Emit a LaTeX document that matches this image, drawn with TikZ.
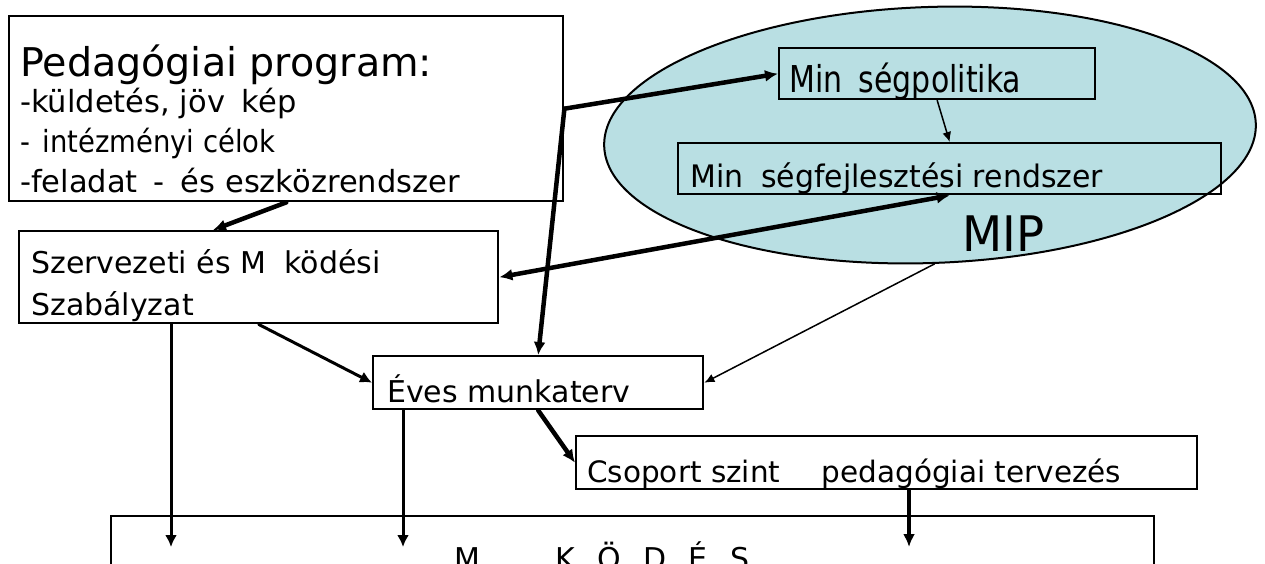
\documentclass[tikz,border=0pt]{standalone}
\usepackage{fontspec}
\setmainfont{DejaVu Sans}
\usetikzlibrary{arrows.meta,shapes.geometric}
\definecolor{celeste}{RGB}{185,223,227}
\newcommand{\angosto}[2][0.8]{\scalebox{#1}[1]{#2}}
\tikzstyle{every path}=[line cap=round]
\tikzstyle{caja}=[draw, line width=2.4pt, rectangle, anchor=north west, inner sep=0pt]
\tikzstyle{texto}=[anchor=base west, inner sep=0pt]
\tikzstyle{gruesa}=[line width=4.5pt, -{Latex[length=13pt,width=12pt]}]
\tikzstyle{media}=[line width=3pt, -{Latex[length=12pt,width=12pt]}]
\tikzstyle{fina}=[line width=1.5pt, -{Latex[length=10pt,width=9pt]}]

\begin{document}
\begin{tikzpicture}[x=1pt,y=-1pt]
          \useasboundingbox (0,0) rectangle (1265,563);
          %elipse MIP
          \node[ellipse, draw, fill=celeste, line width=2pt, minimum width=652pt, minimum height=256pt, inner sep=0pt, rotate=2] (mip) at (930,135) {};
          \node[texto, font=\fontsize{49}{50}\selectfont] (tmip) at (962,251) {\angosto[0.95]{MIP}};
          %cajas
          \node[caja, minimum width=554pt, minimum height=185pt] (ped) at (8,15) {};
          \node[caja, minimum width=479pt, minimum height=92pt] (szmsz) at (18,230) {};
          \node[caja, minimum width=316pt, minimum height=51pt] (pol) at (778,47) {};
          \node[caja, minimum width=543pt, minimum height=51pt] (rend) at (677,142) {};
          \node[caja, minimum width=330pt, minimum height=53pt] (eves) at (372,355) {};
          \node[caja, minimum width=621pt, minimum height=53pt] (csop) at (575,435) {};
          \node[caja, minimum width=1043pt, minimum height=120pt] (muk) at (110,515) {};
          %textos
          \node[texto, font=\fontsize{39.6}{40}\selectfont] (tped) at (20,76) {Pedagógiai program:};
          \node[texto, font=\fontsize{30.5}{31}\selectfont] (tl1) at (20,112) {-küldetés, jöv\hspace{0.55em}kép};
          \node[texto, font=\fontsize{30.5}{31}\selectfont] (tl2) at (20,152) {\angosto[0.9]{-\hspace{0.45em}intézményi célok}};
          \node[texto, font=\fontsize{30.5}{31}\selectfont] (tl3) at (20,192) {-feladat\hspace{0.5em}-\hspace{0.55em}és eszközrendszer};
          \node[texto, font=\fontsize{30}{31}\selectfont] (tsz1) at (31,273) {Szervezeti és M\hspace{0.6em}ködési};
          \node[texto, font=\fontsize{30}{31}\selectfont] (tsz2) at (31,315) {Szabályzat};
          \node[texto, font=\fontsize{37}{38}\selectfont] (tpol) at (789,92) {\angosto[0.81]{Min\hspace{0.55em}ségpolitika}};
          \node[texto, font=\fontsize{31}{32}\selectfont] (trend) at (690,187) {\angosto[0.965]{Min\hspace{0.6em}ségfejlesztési rendszer}};
          \node[texto, font=\fontsize{30}{31}\selectfont] (teves) at (387,402) {Éves munkaterv};
          \node[texto, font=\fontsize{29.5}{30}\selectfont] (tcsop) at (587,482) {Csoport szint\hspace{1.4em}pedagógiai tervezés};
          \node[texto, font=\fontsize{30}{31}\selectfont] (tmuk) at (454,569) {M\hspace{2.5em}K\hspace{0.75em}Ö\hspace{0.75em}D\hspace{0.75em}É\hspace{0.75em}S};
          %flechas
          \draw[gruesa] (ped.south) -- ([xshift=195pt]szmsz.north west);
          \draw[gruesa] (ped.east) -- (pol.west);
          \draw[gruesa] (ped.east) -- (eves.north);
          \draw[fina] (pol.south) -- (rend.north);
          \draw[gruesa, {Latex[length=13pt,width=12pt]}-{Latex[length=13pt,width=12pt]}] (szmsz.east) -- (rend.south);
          \draw[media] (szmsz.south) -- (eves.west);
          \draw[fina] (mip.south) -- (eves.east);
          \draw[gruesa] (eves.south) -- (csop.west);
          %hacia el funcionamiento
          \coordinate (f1) at (171,547);
          \coordinate (f2) at (403,547);
          \coordinate (f3) at (909,547);
          \draw[media] (szmsz.south -| f1) -- (f1);
          \draw[media] (eves.south -| f2) -- (f2);
          \draw[gruesa] (csop.south -| f3) -- (f3);
\end{tikzpicture}
\end{document}
